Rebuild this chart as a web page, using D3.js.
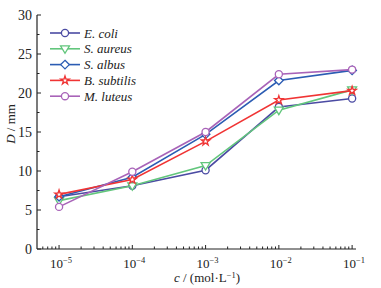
<!DOCTYPE html>
<html><head><meta charset="utf-8">
<script src="https://cdn.jsdelivr.net/npm/d3@7"></script>
<style>body{margin:0;background:#fff}svg{display:block}</style>
</head><body>
<svg id="c" width="381" height="288" font-family="'Liberation Serif', 'DejaVu Serif', 'Times New Roman', serif"></svg>
<script>
const concentrations = [1e-5, 1e-4, 1e-3, 1e-2, 1e-1];
const seriesNames = ["E. coli", "S. aureus", "S. albus", "B. subtilis", "M. luteus"];
const eColi = [6.7, 8.1, 10.1, 18.2, 19.3];
const sAureus = [6.2, 8.1, 10.7, 17.8, 20.4];
const sAlbus = [6.7, 9.2, 14.7, 21.6, 22.9];
const bSubtilis = [7.0, 8.9, 13.8, 19.1, 20.3];
const mLuteus = [5.4, 9.9, 15.0, 22.4, 23.0];
const yTicks = [0, 5, 10, 15, 20, 25, 30];
const xTickExps = [-5, -4, -3, -2, -1];

const colors = ["#4b4ba3", "#62c67c", "#2b5cb3", "#f03434", "#a863b8"];
const shapes = ["circle", "triangle", "diamond", "star", "circle"];
const values = [eColi, sAureus, sAlbus, bSubtilis, mLuteus];

const svg = d3.select("#c");
const x = d3.scaleLog().domain([5e-6, 0.113]).range([37, 356]);
const y = d3.scaleLinear().domain([0, 30]).range([249, 15]);

const g = svg.append("g");
g.append("line").attr("x1",37).attr("x2",37).attr("y1",y(0)).attr("y2",y(30)).attr("stroke","#222").attr("stroke-width",1.2);
d3.range(0, 30.1, 2.5).forEach(v=>{
  const major = v % 5 === 0;
  g.append("line").attr("x1",37).attr("x2",37+(major?4:2.5)).attr("y1",y(v)).attr("y2",y(v)).attr("stroke","#222").attr("stroke-width",1);
});
yTicks.forEach(v=>{
  g.append("text").attr("x",32).attr("y",y(v)+5).attr("text-anchor","end").attr("font-size",14).attr("fill","#222").text(v);
});
g.append("line").attr("x1",37).attr("x2",356).attr("y1",y(0)).attr("y2",y(0)).attr("stroke","#222").attr("stroke-width",1.2);
const minor = [];
for (let e=-6;e<=-1;e++) for (let m=1;m<10;m++){ const v=m*Math.pow(10,e); if(v>=5e-6 && v<=0.113) minor.push(v); }
minor.forEach(v=>{
  const major = Math.abs(Math.log10(v)-Math.round(Math.log10(v)))<1e-9;
  g.append("line").attr("x1",x(v)).attr("x2",x(v)).attr("y1",y(0)).attr("y2",y(0)-(major?4:2.5)).attr("stroke","#222").attr("stroke-width",1);
});
xTickExps.forEach(e=>{
  const t = g.append("text").attr("x",x(Math.pow(10,e))+2).attr("y",y(0)+19).attr("text-anchor","middle").attr("font-size",13).attr("fill","#222");
  t.append("tspan").text("10");
  t.append("tspan").attr("dy",-5).attr("font-size",8.5).text("−"+(-e));
});
const xt = g.append("text").attr("x",207).attr("y",282).attr("text-anchor","middle").attr("font-size",13).attr("fill","#222");
xt.append("tspan").attr("font-style","italic").text("c");
xt.append("tspan").text(" / (mol·L");
xt.append("tspan").attr("dy",-4).attr("font-size",8.5).text("−1");
xt.append("tspan").attr("dy",4).text(")");
const yt = g.append("text").attr("transform","translate(15,124) rotate(-90)").attr("text-anchor","middle").attr("font-size",13).attr("fill","#222");
yt.append("tspan").attr("font-style","italic").text("D");
yt.append("tspan").text(" / mm");

function pathFor(s){
  if (s==="circle") return d3.symbol(d3.symbolCircle, 40)();
  if (s==="diamond") return "M0,-4.3L4.3,0L0,4.3L-4.3,0Z";
  if (s==="star") return d3.symbol(d3.symbolStar, 22)();
  if (s==="triangle") return "M-4.5,-3L4.5,-3L0,4.5Z";
}
function drawMarker(sel, s, cx, cy, col){
  sel.append("path").attr("d", pathFor(s)).attr("fill","#fff").attr("stroke",col).attr("stroke-width",1.3)
    .attr("transform",`translate(${cx},${cy})`);
}

const line = d3.line().x((d,i)=>x(concentrations[i])).y(d=>y(d));
values.forEach((vals,k)=>{
  const sg = svg.append("g");
  sg.append("path").datum(vals).attr("d",line).attr("fill","none").attr("stroke",colors[k]).attr("stroke-width",1.6);
  vals.forEach((v,i)=>drawMarker(sg, shapes[k], x(concentrations[i]), y(v), colors[k]));
});

seriesNames.forEach((n,k)=>{
  const ly = 33 + k*15.8;
  const lg = svg.append("g");
  lg.append("line").attr("x1",50).attr("x2",80).attr("y1",ly).attr("y2",ly).attr("stroke",colors[k]).attr("stroke-width",1.6);
  drawMarker(lg, shapes[k], 65, ly, colors[k]);
  lg.append("text").attr("x",84).attr("y",ly+4.5).attr("font-size",13).attr("font-style","italic").attr("fill","#222").text(n);
});
</script>
</body></html>
